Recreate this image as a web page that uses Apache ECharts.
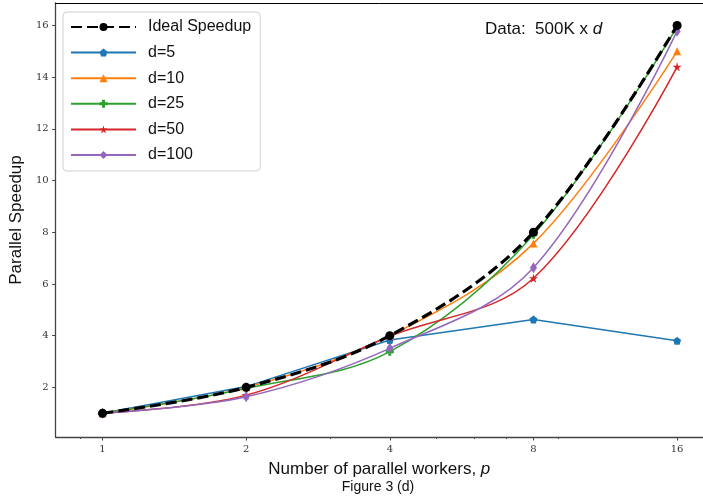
<!DOCTYPE html>
<html>
<head>
<meta charset="utf-8">
<script src="https://cdn.jsdelivr.net/npm/echarts@6/dist/echarts.min.js"></script>
<style>
  html, body { margin: 0; padding: 0; background: #fff; }
  #chart { width: 703px; height: 502px; }
</style>
</head>
<body>
<div id="chart"></div>
<script>
// Number of parallel workers
const workers = [1, 2, 4, 8, 16];
// Measured speedups per data dimensionality d
const ideal = [1, 2, 4, 8, 16];
const d5 = [1.0, 2.03, 3.83, 4.63, 3.80];
const d10 = [1.0, 2.0, 4.0, 7.57, 15.0];
const d25 = [1.0, 1.96, 3.38, 7.9, 15.95];
const d50 = [1.0, 1.70, 3.98, 6.22, 14.4];
const d100 = [1.0, 1.64, 3.51, 6.63, 15.78];

const xTicks = [1, 2, 4, 8, 16];
const xMinorTicks = [0.9, 3, 5, 6, 7, 9];
const yTicks = [2, 4, 6, 8, 10, 12, 14, 16];

const pentagon = 'path://M0,-1 L0.951,-0.309 L0.588,0.809 L-0.588,0.809 L-0.951,-0.309 Z';
const plusFilled = 'path://M-0.36,-1 L0.36,-1 L0.36,-0.36 L1,-0.36 L1,0.36 L0.36,0.36 L0.36,1 L-0.36,1 L-0.36,0.36 L-1,0.36 L-1,-0.36 L-0.36,-0.36 Z';
const star = 'path://M0,-1 L0.2245,-0.309 L0.951,-0.309 L0.363,0.118 L0.588,0.809 L0,0.382 L-0.588,0.809 L-0.363,0.118 L-0.951,-0.309 L-0.2245,-0.309 Z';

function pairs(ys) { return workers.map((x, i) => [x, ys[i]]); }

const tickFont = { fontFamily: 'DejaVu Serif, Liberation Serif, serif', fontSize: 10, color: '#333' };
const sans = 'Liberation Sans, Arial, sans-serif';
const X_MIN = 0.7975, X_MAX = 18.13;

function series(name, ys, color, symbol, size, smooth) {
  return {
    name, type: 'line', data: pairs(ys), smooth: smooth,
    symbol, symbolSize: size,
    lineStyle: { color, width: 1.5 },
    itemStyle: { color },
    z: 3
  };
}

const chart = echarts.init(document.getElementById('chart'), null, { renderer: 'canvas' });
chart.setOption({
  animation: false,
  backgroundColor: '#fff',
  grid: { left: 54, right: 0, top: 3, bottom: 65 },
  xAxis: [{
    type: 'log', logBase: 2, min: X_MIN, max: X_MAX,
    name: 'Number of parallel workers, {i|p}',
    nameLocation: 'middle', nameGap: 24,
    nameTextStyle: { fontFamily: sans, fontSize: 17, color: '#111', rich: { i: { fontFamily: sans, fontSize: 17, fontStyle: 'italic', color: '#111' } } },
    axisLine: { lineStyle: { color: '#444', width: 1.3 } },
    axisTick: { customValues: xTicks, length: 3.5, lineStyle: { color: '#444' } },
    axisLabel: Object.assign({ customValues: xTicks, margin: 7, formatter: v => String(Math.round(v)) }, tickFont),
    splitLine: { show: false }, minorTick: { show: false }
  }, {
    // minor ticks along the bottom
    type: 'log', logBase: 2, min: X_MIN, max: X_MAX, position: 'bottom',
    axisLine: { show: false },
    axisTick: { customValues: xMinorTicks, length: 2, lineStyle: { color: '#444' } },
    axisLabel: { show: false }, splitLine: { show: false }
  }, {
    // top frame line
    type: 'log', logBase: 2, min: X_MIN, max: X_MAX, position: 'top',
    axisLine: { show: true, lineStyle: { color: '#000', width: 1 } },
    axisTick: { show: false }, axisLabel: { show: false }, splitLine: { show: false }
  }],
  yAxis: {
    type: 'value', min: 0.08, max: 16.87,
    name: 'Parallel Speedup', nameLocation: 'middle', nameGap: 22,
    nameTextStyle: { fontFamily: sans, fontSize: 17, color: '#111' },
    axisLine: { show: true, lineStyle: { color: '#444', width: 1.3 } },
    axisTick: { show: true, customValues: yTicks, length: 3.5, lineStyle: { color: '#444' } },
    axisLabel: Object.assign({ customValues: yTicks, margin: 7 }, tickFont),
    splitLine: { show: false }
  },
  legend: {
    left: 63, top: 12, orient: 'vertical',
    itemWidth: 65, itemHeight: 10, itemGap: 9.6,
    padding: [7, 9, 8, 7],
    borderColor: '#d0d0d0', borderWidth: 1, borderRadius: 4,
    backgroundColor: 'rgba(255,255,255,0.85)',
    textStyle: { fontFamily: sans, fontSize: 16, color: '#111', padding: [0, 0, 0, 7] },
    data: ['Ideal Speedup', 'd=5', 'd=10', 'd=25', 'd=50', 'd=100']
  },
  graphic: [{
    type: 'text', x: 485, y: 29,
    style: { text: 'Data:  500K x {i|d}', font: '17px ' + sans, fill: '#111', textVerticalAlign: 'middle',
      rich: { i: { fontStyle: 'italic', fontFamily: sans, fontSize: 17, fill: '#111' } } }
  }, {
    type: 'text', x: 378, y: 487,
    style: { text: 'Figure 3 (d)', font: '14px ' + sans, fill: '#111', textAlign: 'center', textVerticalAlign: 'middle' }
  }],
  series: [
    series('d=5', d5, '#1f77b4', pentagon, 8, false),
    series('d=10', d10, '#ff7f0e', 'triangle', 8, 0.35),
    series('d=25', d25, '#2ca02c', plusFilled, 8, 0.35),
    series('d=50', d50, '#d62728', star, 9, 0.35),
    series('d=100', d100, '#9467bd', 'diamond', [7, 11], 0.35),
    {
      name: 'Ideal Speedup', type: 'line', data: pairs(ideal), smooth: 0.35,
      symbol: 'circle', symbolSize: 9,
      lineStyle: { color: '#000', width: 3.2, type: [11, 5] },
      itemStyle: { color: '#000' }, z: 4
    }
  ]
});
</script>
</body>
</html>
